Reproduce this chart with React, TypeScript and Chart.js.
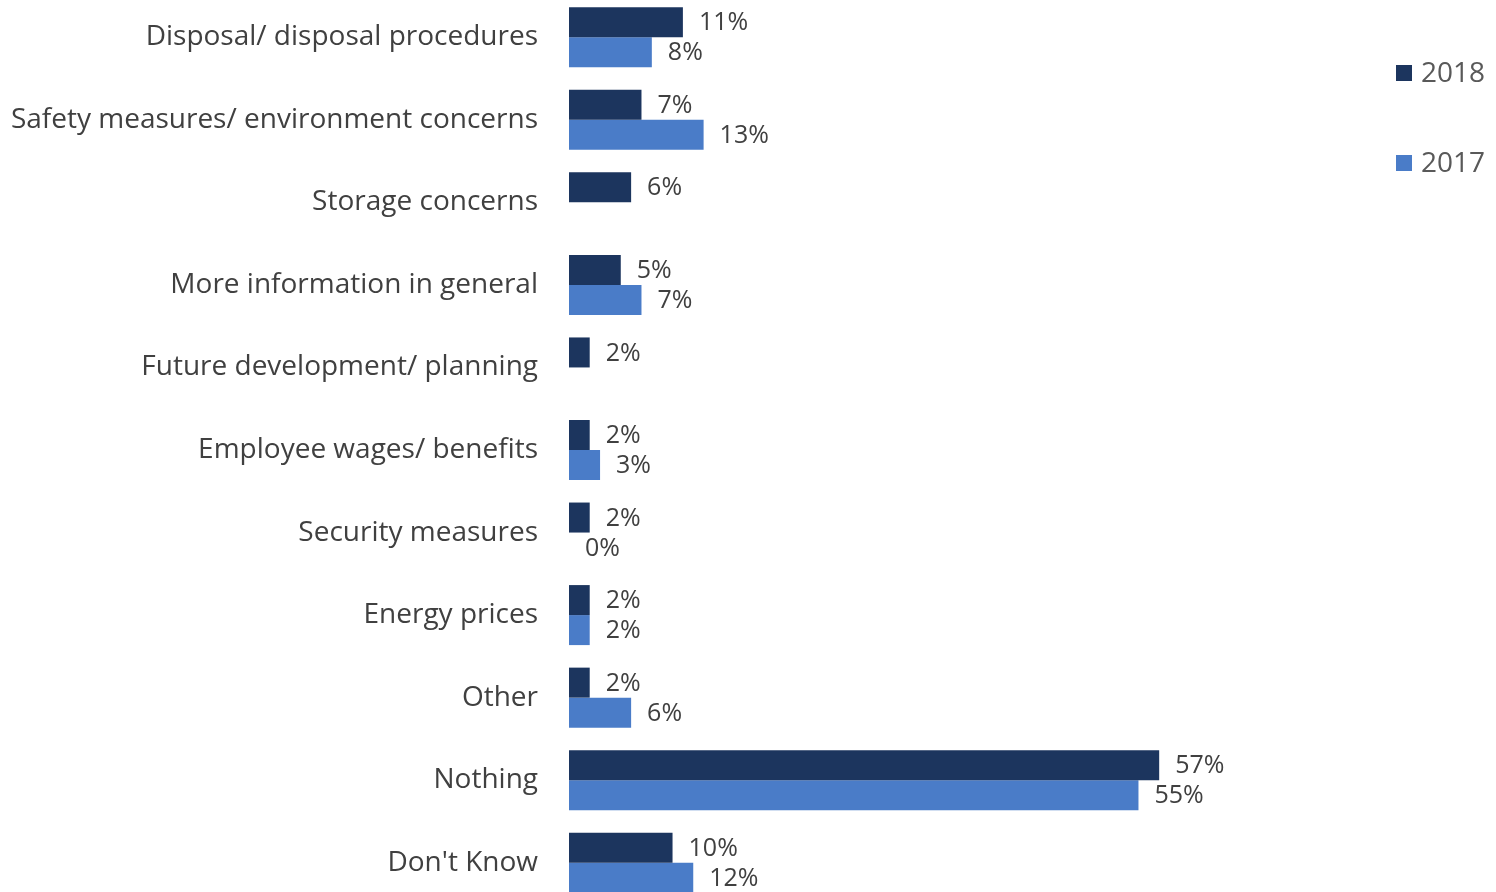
import React, { useEffect, useRef } from "react";
import { Chart, registerables } from "chart.js";

Chart.register(...registerables);

const categories = [
  "Disposal/ disposal procedures",
  "Safety measures/ environment concerns",
  "Storage concerns",
  "More information in general",
  "Future development/ planning",
  "Employee wages/ benefits",
  "Security measures",
  "Energy prices",
  "Other",
  "Nothing",
  "Don't Know",
];
const values2018: (number | null)[] = [11, 7, 6, 5, 2, 2, 2, 2, 2, 57, 10];
const values2017: (number | null)[] = [8, 13, null, 7, null, 3, 0, 2, 6, 55, 12];
const seriesNames = ["2018", "2017"];
const colors = ["#1C355E", "#4A7CC8"];

const FONT = "'Open Sans', 'Noto Sans', sans-serif";
const OFFSET = 4;

const valueLabels = {
  id: "valueLabels",
  afterDatasetsDraw(chart: any) {
    const ctx = chart.ctx;
    ctx.save();
    ctx.font = `25px ${FONT}`;
    ctx.fillStyle = "#404040";
    ctx.textAlign = "left";
    ctx.textBaseline = "middle";
    chart.data.datasets.forEach((ds: any, i: number) => {
      const meta = chart.getDatasetMeta(i);
      meta.data.forEach((bar: any, j: number) => {
        const v = ds.data[j];
        if (v === null || v === undefined) return;
        ctx.fillText(`${v}%`, bar.x + 16, bar.y + 1);
      });
    });
    ctx.restore();
  },
};

const sideLegend = {
  id: "sideLegend",
  afterDraw(chart: any) {
    const ctx = chart.ctx;
    ctx.save();
    ctx.font = `28px ${FONT}`;
    ctx.textAlign = "left";
    ctx.textBaseline = "middle";
    chart.data.datasets.forEach((ds: any, i: number) => {
      const y = 73 + OFFSET + i * 90;
      ctx.fillStyle = ds.backgroundColor;
      ctx.fillRect(1396, y - 8, 16, 16);
      ctx.fillStyle = "#595959";
      ctx.fillText(ds.label, 1421, y + 1);
    });
    ctx.restore();
  },
};

export default function App() {
  const ref = useRef<HTMLCanvasElement>(null);
  useEffect(() => {
    if (!ref.current) return;
    const chart = new Chart(ref.current, {
      type: "bar",
      data: {
        labels: categories,
        datasets: [
          { label: seriesNames[0], data: values2018, backgroundColor: colors[0] },
          { label: seriesNames[1], data: values2017, backgroundColor: colors[1] },
        ],
      },
      options: {
        indexAxis: "y",
        animation: false,
        responsive: false,
        maintainAspectRatio: false,
        layout: { padding: { top: 0, bottom: 0, left: 0, right: 196 } },
        datasets: {
          bar: { categoryPercentage: 0.727, barPercentage: 1 },
        },
        plugins: {
          legend: { display: false },
          tooltip: { enabled: false },
        },
        scales: {
          x: {
            display: false,
            min: 0,
            max: 70.6,
          },
          y: {
            grid: { display: false, drawTicks: false },
            border: { display: false },
            ticks: {
              padding: 31,
              color: "#404040",
              font: { family: FONT, size: 28 },
            },
            afterFit(scale: any) {
              scale.width = 569;
              scale.paddingTop = 0;
              scale.paddingBottom = 0;
            },
          },
        },
      },
      plugins: [valueLabels, sideLegend],
    });
    return () => chart.destroy();
  }, []);
  return (
    <div
      style={{
        position: "fixed",
        left: 0,
        top: 0,
        width: 1496,
        height: 892,
        overflow: "hidden",
        background: "#fff",
      }}
    >
      <canvas
        ref={ref}
        width={1496}
        height={908}
        style={{ position: "absolute", left: 0, top: -OFFSET, width: 1496, height: 908 }}
      />
    </div>
  );
}
